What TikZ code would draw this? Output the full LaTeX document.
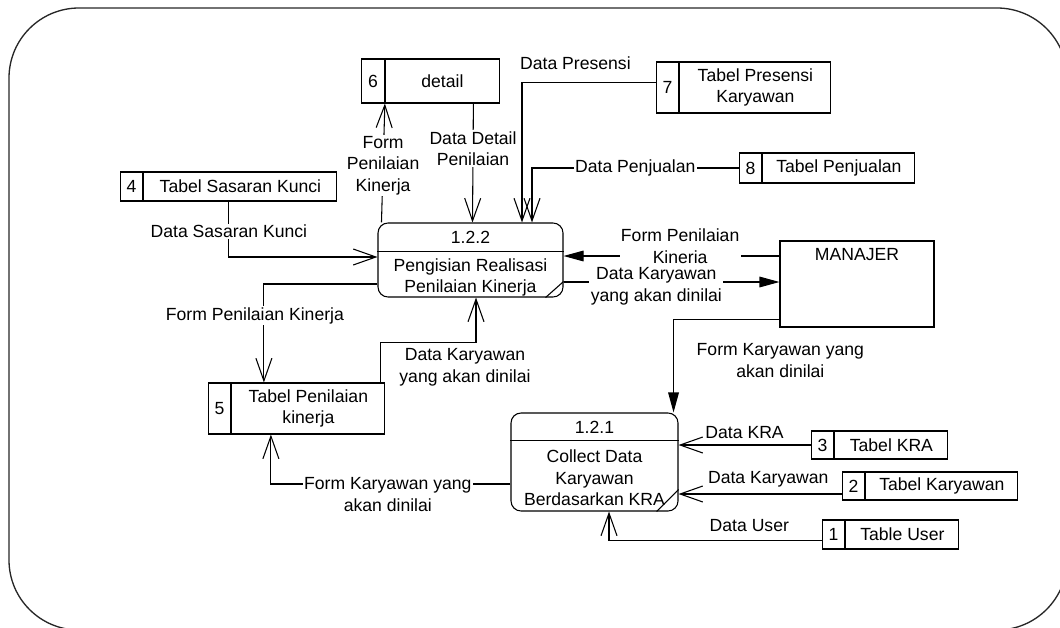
\documentclass[tikz,border=0pt]{standalone}
\usepackage{fontspec}
\setmainfont{Liberation Sans}
\usetikzlibrary{arrows.meta, positioning, calc}

\begin{document}
\begin{tikzpicture}[x=0.75pt, y=-0.75pt]
\tikzset{
  every node/.style={font=\fontsize{13.2}{16.2}\selectfont},
  sid/.style={rectangle,draw=black,line width=0.8pt,minimum width=17pt,inner sep=0pt},
  sname/.style={rectangle,draw=black,line width=0.8pt,inner sep=0pt,align=center},
  proc/.style={rectangle,rounded corners=7.5pt,draw=black,line width=0.8pt},
  ent/.style={rectangle,draw=black,line width=0.8pt},
  txt/.style={inner sep=0pt,align=center},
  lbl/.style={fill=white,inner sep=1pt,align=center},
  flow/.style={draw=black,line width=0.8pt,-{Straight Barb[length=17pt,width=12pt]}},
  cflow/.style={draw=black,line width=0.8pt,-{Triangle[length=15pt,width=8pt]}},
  frame/.style={draw=black!85,line width=1pt,rounded corners=52.5pt}
}
\useasboundingbox (0,0) rectangle (1060,628);
\clip (0,0) rectangle (1060,628);
\draw[frame] (9,8) rectangle (1067,630);
% ---- data stores
\node[sid,minimum height=33pt] (n6) at (373,81) {6};
\node[sname,right=0pt of n6,minimum width=85.5pt,minimum height=33pt] (s6) {detail};
\node[sid,minimum height=38.25pt] (n7) at (667.5,87.5) {7};
\node[sname,right=0pt of n7,minimum width=113.25pt,minimum height=38.25pt] (s7) {Tabel Presensi\\Karyawan};
\node[sid,minimum height=22.5pt] (n8) at (750.5,168) {8};
\node[sname,right=0pt of n8,minimum width=114pt,minimum height=22.5pt] (s8) {Tabel Penjualan};
\node[sid,minimum height=21.75pt] (n4) at (131.5,186.5) {4};
\node[sname,right=0pt of n4,minimum width=144.75pt,minimum height=21.75pt] (s4) {Tabel Sasaran Kunci};
\node[sid,minimum height=38.25pt] (n5) at (219.5,408.5) {5};
\node[sname,right=0pt of n5,minimum width=114.75pt,minimum height=38.25pt] (s5) {Tabel Penilaian\\kinerja};
\node[sid,minimum height=21pt] (n3) at (822.5,445) {3};
\node[sname,right=0pt of n3,minimum width=84.75pt,minimum height=21pt] (s3) {Tabel KRA};
\node[sid,minimum height=21pt] (n2) at (853.5,486) {2};
\node[sname,right=0pt of n2,minimum width=114pt,minimum height=21pt] (s2) {Tabel Karyawan};
\node[sid,minimum height=21.75pt] (n1) at (833.5,534.5) {1};
\node[sname,right=0pt of n1,minimum width=84.75pt,minimum height=21.75pt] (s1) {Table User};
% ---- processes and entity
\node[proc,minimum width=138.75pt,minimum height=55.5pt] (p122) at (470.5,260) {};
\node[txt] (p122id) at (470.5,237) {1.2.2};
\node[txt] (p122nm) at (470.5,277.5) {Pengisian Realisasi\\Penilaian Kinerja};
\draw[line width=0.8pt] ($(p122.north west)+(0,29)$) -- ($(p122.north east)+(0,29)$);
\draw[line width=0.8pt] ($(p122.south east)+(-18,0)$) -- ($(p122.south east)+(0,-16)$);
\node[proc,minimum width=125.25pt,minimum height=73.5pt] (p121) at (594.5,462) {};
\node[txt] (p121id) at (594.5,427) {1.2.1};
\node[txt] (p121nm) at (594.5,478) {Collect Data\\Karyawan\\Berdasarkan KRA};
\draw[line width=0.8pt] ($(p121.north west)+(0,28)$) -- ($(p121.north east)+(0,28)$);
\draw[line width=0.8pt] ($(p121.south east)+(-22,0)$) -- ($(p121.south east)+(0,-22)$);
\node[ent,minimum width=115.5pt,minimum height=64.5pt] (mgr) at (857,284) {};
\node[txt] (mgrnm) at (857,255) {MANAJER};
% ---- flows around 1.2.2
\draw[flow] ($(p122.north west)+(4,0)$) -- node[lbl,pos=0.48]{Form\\Penilaian\\Kinerja} (s6.south west);
\draw[flow] ($(s6.south)+(31,0)$) -- node[lbl,pos=0.38]{Data Detail\\Penilaian} ($(p122.north)+(2,0)$);
\draw[flow] ($(n7.west)+(0,-5)$) -| node[lbl,above=8pt,pos=0.3]{Data Presensi} ($(p122.north)+(51.5,0)$);
\draw[flow] (n8.west) -| node[lbl,pos=0.25]{Data Penjualan} ($(p122.north)+(61.5,0)$);
\draw[flow] ($(s4.south)+(-11.5,0)$) |- node[lbl,pos=0.27]{Data Sasaran Kunci} ($(p122.west)+(0,-3)$);
\draw[flow] ($(p122.west)+(0,24)$) -| node[lbl,pos=0.66,xshift=-6.75pt]{Form Penilaian Kinerja} ($(s5.north)+(-44.5,0)$);
\draw[flow] ($(s5.north east)+(-5,0)$) |- ($(p122.south)+(5.5,45)$) node[lbl,anchor=north,xshift=-8.25pt,yshift=-3pt]{Data Karyawan\\yang akan dinilai} -- ($(p122.south)+(5.5,0)$);
\draw[cflow] ($(mgr.west)+(0,-28)$) -- node[lbl,pos=0.46,yshift=7.5pt]{Form Penilaian\\Kineria} ($(p122.east)+(0,-4)$);
\draw[cflow] ($(p122.east)+(0,22)$) -- node[lbl,pos=0.43,yshift=-3pt]{Data Karyawan\\yang akan dinilai} ($(mgr.west)+(0,-2)$);
% ---- flows around 1.2.1
\draw[cflow] ($(mgr.south west)+(0,-8)$) -| node[lbl,pos=0.72,right=16pt]{Form Karyawan yang\\akan dinilai} ($(p121.north east)+(-5,0)$);
\draw[flow] (n3.west) -- node[lbl,above=3.5pt,pos=0.5]{Data KRA} (p121.east |- n3.west);
\draw[flow] ($(n2.west)+(0,8)$) -- node[lbl,above=4pt,pos=0.45]{Data Karyawan} ($(p121.east)+(0,32)$);
\draw[flow] ($(n1.west)+(0,6)$) -| node[lbl,above=5pt,pos=0.17]{Data User} ($(p121.south)+(14.5,0)$);
\draw[flow] ($(p121.west)+(0,22)$) -| node[lbl,pos=0.256,yshift=-8pt]{Form Karyawan yang\\akan dinilai} ($(s5.south)+(-37.5,0)$);
\end{tikzpicture}
\end{document}
